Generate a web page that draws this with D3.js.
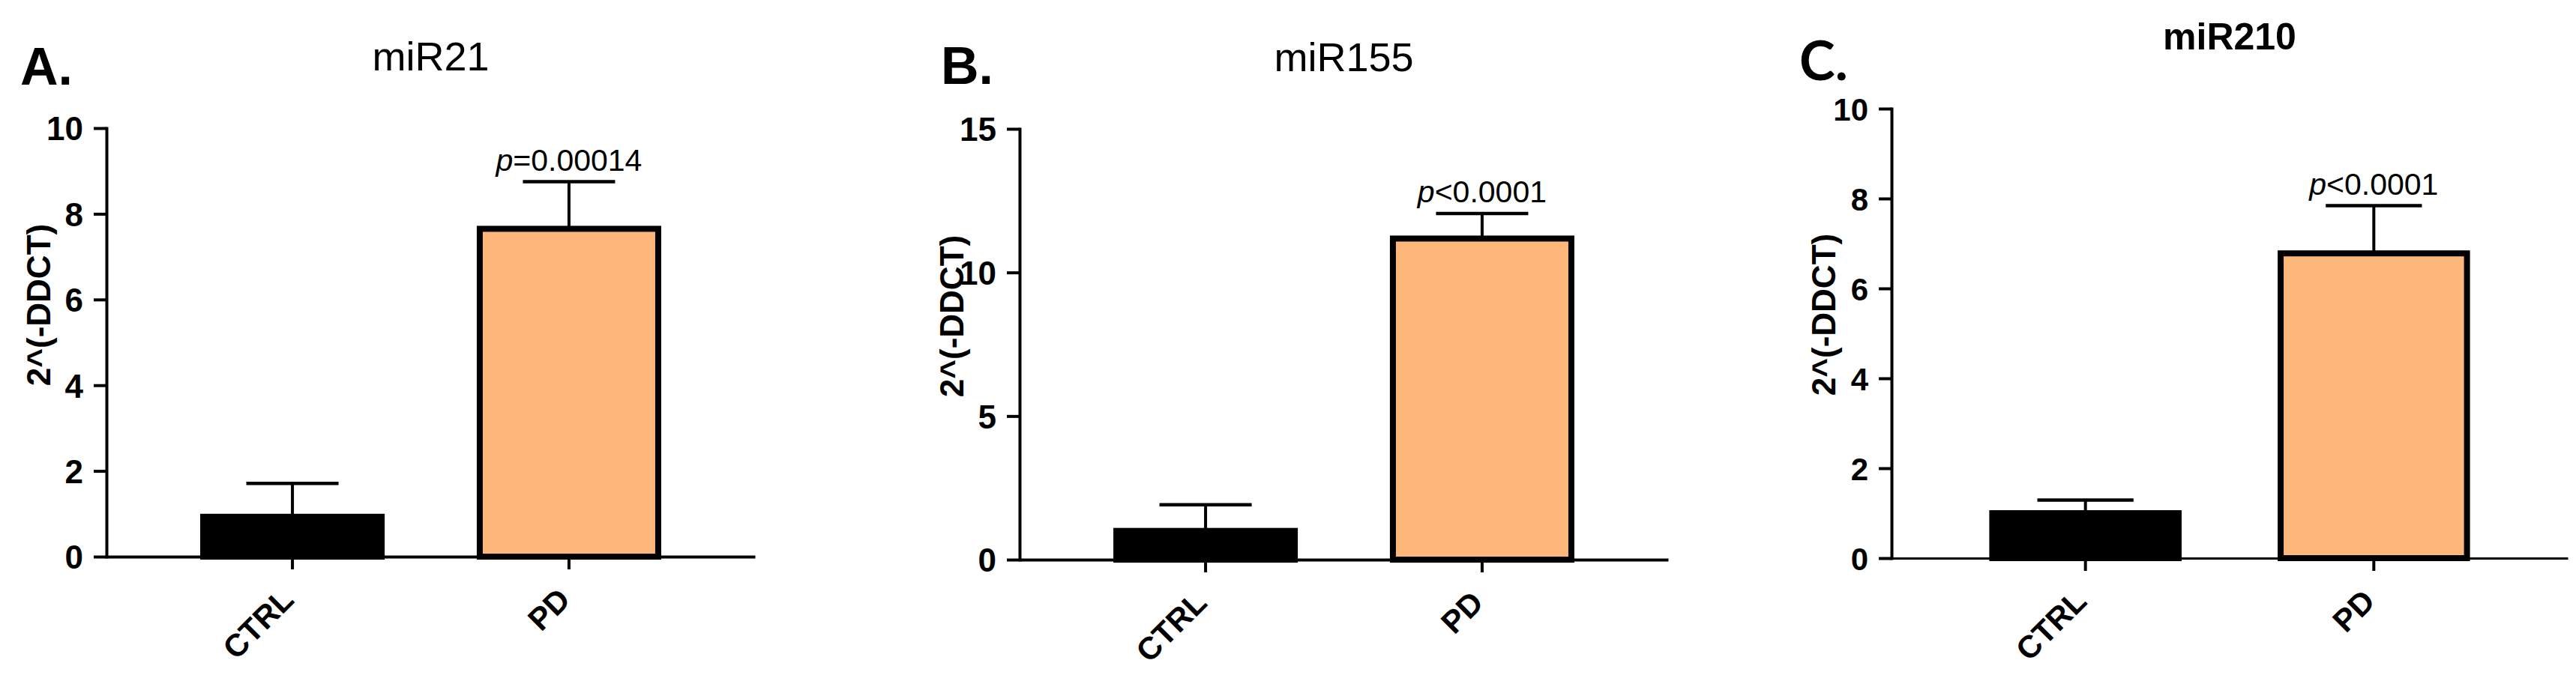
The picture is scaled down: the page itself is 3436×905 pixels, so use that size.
<!DOCTYPE html>
<html>
<head>
<meta charset="utf-8">
<script src="https://cdn.jsdelivr.net/npm/d3@7"></script>
<style>
  html, body { margin: 0; padding: 0; background: #fff; }
  svg { display: block; }
</style>
</head>
<body>
<svg id="chart" width="3436" height="905"></svg>
<script>
// ---------- data ----------
const panelLetters = ["A.", "B.", "C."];
const titles = ["miR21", "miR155", "miR210"];
const categories = ["CTRL", "PD"];
const meansA = [0.93, 7.65];
const semA   = [0.78, 1.10];
const meansB = [1.00, 11.18];
const semB   = [0.91, 0.87];
const meansC = [1.00, 6.78];
const semC   = [0.29, 1.06];
const yMax = [10, 15, 10];
const yTicksA = [0, 2, 4, 6, 8, 10];
const yTicksB = [0, 5, 10, 15];
const yTicksC = [0, 2, 4, 6, 8, 10];
const pOps = ["=", "<", "<"];
const pValues = ["0.00014", "0.0001", "0.0001"];
const yLabel = "2^(-DDCT)";
const barColors = ["#000000", "#FDB77A"];

// ---------- layout (positions / styles) ----------
const layout = [
  { axisX: 142,  axisEnd: 1007, yTop: 171, y0: 743, letterX: 27,   letterY: 113, ylabX: 67,   ylabY: 407, titleY: 94,
    letterFont: "'Liberation Sans', Arial, sans-serif", letterSize: 70,
    titleFont: "'Liberation Sans', Arial, sans-serif", titleWeight: 400, titleSize: 54,
    tickFont: "'Liberation Sans Narrow', 'Arial Narrow', sans-serif", tickSize: 44, xAxisW: 4 },
  { axisX: 1360, axisEnd: 2225, yTop: 172, y0: 747, letterX: 1255, letterY: 112, ylabX: 1285, ylabY: 422, titleY: 95,
    letterFont: "'Liberation Sans', Arial, sans-serif", letterSize: 70,
    titleFont: "'Liberation Sans', Arial, sans-serif", titleWeight: 400, titleSize: 54,
    tickFont: "'Liberation Sans Narrow', 'Arial Narrow', sans-serif", tickSize: 44, xAxisW: 4 },
  { axisX: 2523, axisEnd: 3425, yTop: 145, y0: 745, letterX: 2400, letterY: 107, ylabX: 2448, ylabY: 420, titleY: 66,
    letterFont: "Lato, 'Open Sans', sans-serif", letterSize: 72,
    titleFont: "'Liberation Sans', Arial, sans-serif", titleWeight: 700, titleSize: 50,
    tickFont: "'Liberation Sans', Arial, sans-serif", tickSize: 42, xAxisW: 3 }
];

const means = [meansA, meansB, meansC];
const sems = [semA, semB, semC];
const yTicks = [yTicksA, yTicksB, yTicksC];

const svg = d3.select("#chart");
svg.append("rect").attr("width", 3436).attr("height", 905).attr("fill", "#fff");

layout.forEach((L, i) => {
  const g = svg.append("g");
  const x = d3.scaleBand().domain(categories).range([L.axisX, L.axisEnd])
    .paddingInner(0.333).paddingOuter(0.339);
  const y = d3.scaleLinear().domain([0, yMax[i]]).range([L.y0, L.yTop]);
  const data = categories.map((c, k) => ({ c, m: means[i][k], e: sems[i][k], k }));
  const bw = x.bandwidth();
  const sw = 8;

  // error bars (upper only)
  const capW = bw * 0.5;
  const eg = g.append("g");
  eg.selectAll("line.v").data(data).join("line")
    .attr("x1", d => x(d.c) + bw / 2).attr("x2", d => x(d.c) + bw / 2)
    .attr("y1", d => y(d.m)).attr("y2", d => y(d.m + d.e))
    .attr("stroke", "#000").attr("stroke-width", 4);
  eg.selectAll("line.c").data(data).join("line")
    .attr("x1", d => x(d.c) + bw / 2 - capW / 2).attr("x2", d => x(d.c) + bw / 2 + capW / 2)
    .attr("y1", d => y(d.m + d.e)).attr("y2", d => y(d.m + d.e))
    .attr("stroke", "#000").attr("stroke-width", 4.5);

  // bars
  g.selectAll("rect.bar").data(data).join("rect")
    .attr("x", d => x(d.c) + sw / 2)
    .attr("width", bw - sw)
    .attr("y", d => y(d.m))
    .attr("height", d => L.y0 - y(d.m))
    .attr("fill", d => barColors[d.k])
    .attr("stroke", "#000").attr("stroke-width", sw);

  // y axis
  const ya = g.append("g").attr("transform", `translate(${L.axisX},0)`)
    .call(d3.axisLeft(y).tickValues(yTicks[i]).tickSize(17).tickSizeOuter(0).tickPadding(14));
  ya.selectAll("path.domain").attr("stroke-width", 4).attr("stroke-linecap", "square");
  ya.selectAll(".tick line").attr("stroke-width", 4);
  ya.selectAll(".tick text")
    .attr("font-family", L.tickFont).attr("font-weight", 700).attr("font-size", L.tickSize)
    .attr("fill", "#000").attr("dy", "0.36em");

  // x axis
  const xa = g.append("g").attr("transform", `translate(0,${L.y0})`)
    .call(d3.axisBottom(x).tickSize(17).tickSizeOuter(0));
  xa.selectAll("path.domain").attr("stroke-width", L.xAxisW);
  xa.selectAll(".tick line").attr("stroke-width", 4);
  xa.selectAll(".tick text")
    .attr("x", 0).attr("y", 0).attr("dy", 0)
    .attr("transform", "translate(4,60) rotate(-45)")
    .attr("text-anchor", "end")
    .attr("font-family", "'Liberation Sans', Arial, sans-serif")
    .attr("font-weight", 700).attr("font-size", 42).attr("fill", "#000");

  // p-value label
  const pd = data[1];
  const pt = g.append("text")
    .attr("x", x(pd.c) + bw / 2).attr("y", y(pd.m + pd.e) - 15)
    .attr("text-anchor", "middle")
    .attr("font-family", "'Liberation Sans', Arial, sans-serif")
    .attr("font-size", 41).attr("fill", "#000");
  pt.append("tspan").attr("font-style", "italic").text("p");
  pt.append("tspan").text(pOps[i] + pValues[i]);

  // title
  g.append("text")
    .attr("x", (L.axisX + L.axisEnd) / 2).attr("y", L.titleY)
    .attr("text-anchor", "middle")
    .attr("font-family", L.titleFont).attr("font-weight", L.titleWeight)
    .attr("font-size", L.titleSize).attr("fill", "#000")
    .text(titles[i]);

  // panel letter
  g.append("text")
    .attr("x", L.letterX).attr("y", L.letterY)
    .attr("font-family", L.letterFont).attr("font-weight", 700)
    .attr("font-size", L.letterSize).attr("fill", "#000")
    .text(panelLetters[i]);

  // y label
  g.append("text")
    .attr("transform", `translate(${L.ylabX},${L.ylabY}) rotate(-90)`)
    .attr("text-anchor", "middle")
    .attr("font-family", "'Liberation Sans', Arial, sans-serif")
    .attr("font-weight", 700).attr("font-size", 44).attr("fill", "#000")
    .text(yLabel);
});
</script>
</body>
</html>
